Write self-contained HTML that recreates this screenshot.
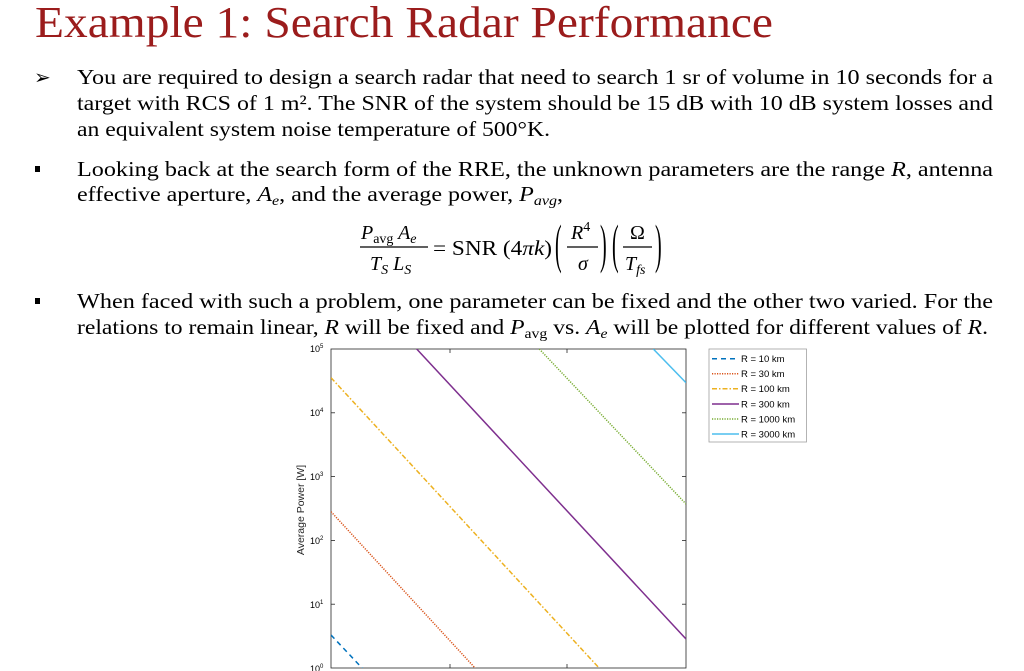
<!DOCTYPE html>
<html><head><meta charset="utf-8"><style>
html,body{margin:0;padding:0;background:#fff;width:1024px;height:671px;overflow:hidden}
svg text{font-family:"Liberation Serif",serif;fill:#000}
.s{font-family:"Liberation Sans",sans-serif !important}
</style></head><body>
<svg width="1024" height="671" viewBox="0 0 1024 671" xmlns="http://www.w3.org/2000/svg">
<text x="35" y="37" font-size="44" style="fill:#9b1c1c" textLength="738" lengthAdjust="spacingAndGlyphs">Example 1: Search Radar Performance</text>
<text x="34" y="84" font-size="20">➢</text>
<text x="77" y="84" font-size="21" textLength="916" lengthAdjust="spacingAndGlyphs">You are required to design a search radar that need to search 1 sr of volume in 10 seconds for a</text>
<text x="77" y="110" font-size="21" textLength="916" lengthAdjust="spacingAndGlyphs">target with RCS of 1 m². The SNR of the system should be 15 dB with 10 dB system losses and</text>
<text x="77" y="136" font-size="21" textLength="473" lengthAdjust="spacingAndGlyphs">an equivalent system noise temperature of 500°K.</text>
<rect x="35" y="166" width="5" height="6"/>
<text x="77" y="176" font-size="21" textLength="916" lengthAdjust="spacingAndGlyphs">Looking back at the search form of the RRE, the unknown parameters are the range <tspan font-style="italic">R</tspan>, antenna</text>
<text x="77" y="201" font-size="21" textLength="486" lengthAdjust="spacingAndGlyphs">effective aperture, <tspan font-style="italic">A<tspan font-size="14" dy="4">e</tspan></tspan><tspan dy="-4">, and the average power, </tspan><tspan font-style="italic">P<tspan font-size="14" dy="4">avg</tspan></tspan><tspan dy="-4">,</tspan></text>
<!-- equation -->
<text x="361" y="239" font-size="20" font-style="italic">P<tspan font-style="normal" font-size="14" dy="4">avg</tspan><tspan dy="-4"> A</tspan><tspan font-size="14" dy="4">e</tspan></text>
<line x1="360" y1="247" x2="428" y2="247" stroke="#000" stroke-width="1.2"/>
<text x="370" y="270" font-size="20" font-style="italic">T<tspan font-size="14" dy="4">S</tspan><tspan dy="-4"> L</tspan><tspan font-size="14" dy="4">S</tspan></text>
<text x="433" y="255" font-size="21" textLength="119" lengthAdjust="spacingAndGlyphs">= SNR (4<tspan font-style="italic">πk</tspan>)</text>
<g font-size="20">
<text transform="translate(555,262) scale(1,2.7)">(</text>
<text transform="translate(600,262) scale(1,2.7)">)</text>
<text transform="translate(612,262) scale(1,2.7)">(</text>
<text transform="translate(655,262) scale(1,2.7)">)</text>
</g>
<text x="571" y="239" font-size="20" font-style="italic">R<tspan font-style="normal" font-size="14" dy="-8">4</tspan></text>
<line x1="567" y1="247" x2="598" y2="247" stroke="#000" stroke-width="1.2"/>
<text x="578" y="270" font-size="20" font-style="italic">σ</text>
<text x="630" y="239" font-size="20">Ω</text>
<line x1="623" y1="247" x2="652" y2="247" stroke="#000" stroke-width="1.2"/>
<text x="625" y="270" font-size="20" font-style="italic">T<tspan font-size="14" dy="4">fs</tspan></text>
<rect x="35" y="298" width="5" height="6"/>
<text x="77" y="308" font-size="21" textLength="916" lengthAdjust="spacingAndGlyphs">When faced with such a problem, one parameter can be fixed and the other two varied. For the</text>
<text x="77" y="334" font-size="21" textLength="911" lengthAdjust="spacingAndGlyphs">relations to remain linear, <tspan font-style="italic">R</tspan> will be fixed and <tspan font-style="italic">P</tspan><tspan font-size="14" dy="4">avg</tspan><tspan dy="-4"> vs. </tspan><tspan font-style="italic">A</tspan><tspan font-style="italic" font-size="14" dy="4">e</tspan><tspan dy="-4"> will be plotted for different values of </tspan><tspan font-style="italic">R</tspan>.</text>
<!-- chart -->
<defs><clipPath id="c"><rect x="331" y="349" width="355" height="319"/></clipPath></defs>
<rect x="331" y="349" width="355" height="319" fill="#fff" stroke="#262626" stroke-width="0.8"/>
<g stroke="#262626" stroke-width="0.8">
<line x1="331" y1="412.8" x2="335" y2="412.8"/><line x1="331" y1="476.6" x2="335" y2="476.6"/><line x1="331" y1="540.4" x2="335" y2="540.4"/><line x1="331" y1="604.2" x2="335" y2="604.2"/>
<line x1="686" y1="412.8" x2="682" y2="412.8"/><line x1="686" y1="476.6" x2="682" y2="476.6"/><line x1="686" y1="540.4" x2="682" y2="540.4"/><line x1="686" y1="604.2" x2="682" y2="604.2"/>
<line x1="450" y1="349" x2="450" y2="353"/><line x1="567" y1="349" x2="567" y2="353"/>
<line x1="450" y1="668" x2="450" y2="664"/><line x1="567" y1="668" x2="567" y2="664"/>
</g>
<g class="s" font-size="9" fill="#262626">
<text class="s" x="310" y="352" font-size="9">10<tspan font-size="6" dy="-4">5</tspan></text>
<text class="s" x="310" y="416" font-size="9">10<tspan font-size="6" dy="-4">4</tspan></text>
<text class="s" x="310" y="480" font-size="9">10<tspan font-size="6" dy="-4">3</tspan></text>
<text class="s" x="310" y="544" font-size="9">10<tspan font-size="6" dy="-4">2</tspan></text>
<text class="s" x="310" y="608" font-size="9">10<tspan font-size="6" dy="-4">1</tspan></text>
<text class="s" x="310" y="672" font-size="9">10<tspan font-size="6" dy="-4">0</tspan></text>
</g>
<text class="s" x="0" y="0" font-size="10.5" transform="translate(304,510) rotate(-90)" text-anchor="middle" style="fill:#262626">Average Power [W]</text>
<g clip-path="url(#c)" fill="none" stroke-width="1.5">
<line x1="331" y1="635" x2="363" y2="669" stroke="#0072bd" stroke-dasharray="5,4"/>
<line x1="331" y1="511.7" x2="476" y2="669" stroke="#d95319" stroke-dasharray="1.2,1.3"/>
<line x1="331" y1="377.7" x2="600" y2="669" stroke="#edb120" stroke-dasharray="5,2,1.5,2"/>
<line x1="416.7" y1="349" x2="686" y2="639" stroke="#7e2f8e"/>
<line x1="539.3" y1="349" x2="686" y2="504" stroke="#77ac30" stroke-dasharray="1.2,1.3"/>
<line x1="653.3" y1="349" x2="686" y2="382.7" stroke="#4dbeee"/>
</g>
<rect x="709" y="349" width="97.5" height="93" fill="#fff" stroke="#a0a0a0" stroke-width="0.8"/>
<g stroke-width="1.5">
<line x1="712" y1="358.7" x2="739" y2="358.7" stroke="#0072bd" stroke-dasharray="5,4"/>
<line x1="712" y1="373.7" x2="739" y2="373.7" stroke="#d95319" stroke-dasharray="1.2,1.3"/>
<line x1="712" y1="388.7" x2="739" y2="388.7" stroke="#edb120" stroke-dasharray="5,2,1.5,2"/>
<line x1="712" y1="404" x2="739" y2="404" stroke="#7e2f8e"/>
<line x1="712" y1="419" x2="739" y2="419" stroke="#77ac30" stroke-dasharray="1.2,1.3"/>
<line x1="712" y1="434" x2="739" y2="434" stroke="#4dbeee"/>
</g>
<g>
<text class="s" x="741" y="362" font-size="9.5">R = 10 km</text>
<text class="s" x="741" y="377" font-size="9.5">R = 30 km</text>
<text class="s" x="741" y="392" font-size="9.5">R = 100 km</text>
<text class="s" x="741" y="407.5" font-size="9.5">R = 300 km</text>
<text class="s" x="741" y="422.5" font-size="9.5">R = 1000 km</text>
<text class="s" x="741" y="437.5" font-size="9.5">R = 3000 km</text>
</g>
</svg>
</body></html>
